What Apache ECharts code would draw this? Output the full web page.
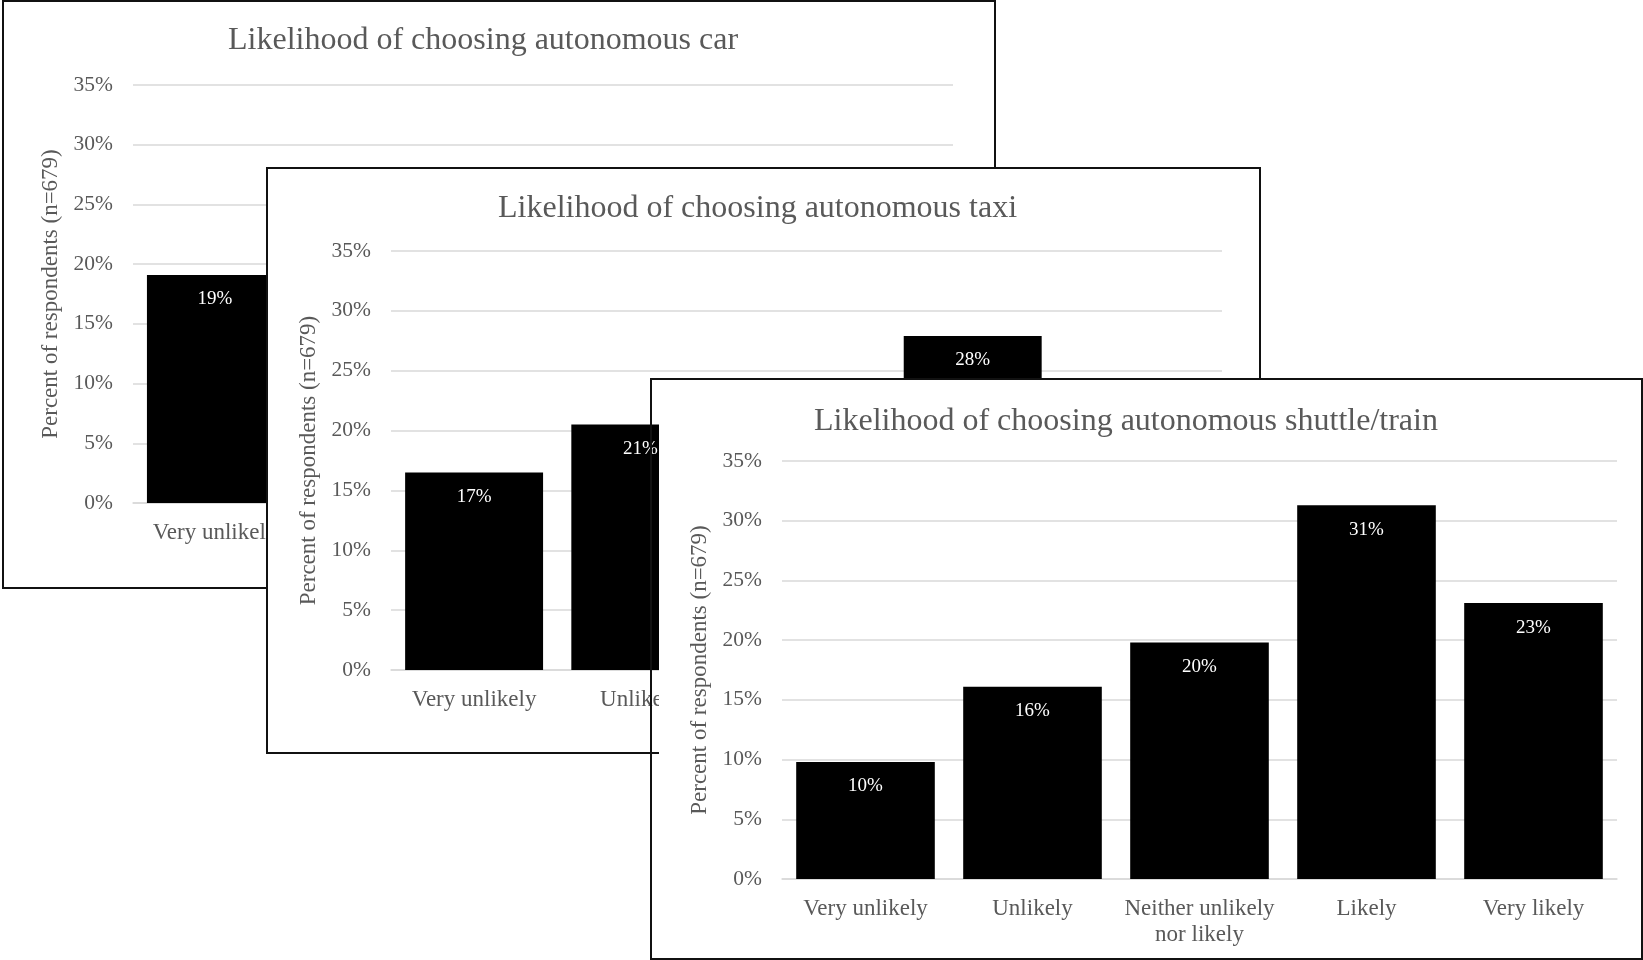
<!DOCTYPE html>
<html>
<head>
<meta charset="utf-8">
<script src="https://cdn.jsdelivr.net/npm/echarts@6/dist/echarts.min.js"></script>
<style>
html,body{margin:0;padding:0;background:#fff;width:1643px;height:960px;overflow:hidden;}
.panel{position:absolute;box-sizing:border-box;border:2px solid #111;background:#fff;}
.chart{position:absolute;left:0;top:0;width:100%;height:100%;}
#p3{background:transparent;}
#p3bg{position:absolute;left:7px;top:0;right:0;bottom:0;background:#fff;}
</style>
</head>
<body>
<div id="p1" class="panel" style="left:2px;top:0px;width:994px;height:589px;"><div id="c1" class="chart"></div></div>
<div id="p2" class="panel" style="left:266px;top:167px;width:995px;height:587px;"><div id="c2" class="chart"></div></div>
<div id="p3" class="panel" style="left:650px;top:378px;width:993px;height:582px;"><div id="p3bg"></div><div id="c3" class="chart"></div></div>
<script>
const categories = ['Very unlikely', 'Unlikely', 'Neither unlikely\nnor likely', 'Likely', 'Very likely'];
const carValues = [19.1, 18.0, 21.0, 25.0, 16.9];
const taxiValues = [16.5, 20.5, 17.0, 27.9, 18.1];
const shuttleValues = [9.8, 16.1, 19.8, 31.3, 23.1];
const yTicks = {min: 0, max: 35, interval: 5};
const titles = ['Likelihood of choosing autonomous car', 'Likelihood of choosing autonomous taxi', 'Likelihood of choosing autonomous shuttle/train'];
const yName = 'Percent of respondents (n=679)';

const FONT = '"Liberation Serif", "Times New Roman", serif';
const TXT = '#595959';
const GRID = '#d9d9d9';

function makeOption(title, values, layout) {
  return {
    animation: false,
    backgroundColor: 'transparent',
    textStyle: {fontFamily: FONT},
    title: {
      text: title,
      left: layout.titleLeft,
      top: layout.titleTop,
      textStyle: {fontFamily: FONT, fontSize: 32, fontWeight: 'normal', color: TXT}
    },
    grid: {left: layout.left, right: layout.right, top: layout.top, bottom: layout.bottom, containLabel: false},
    xAxis: {
      type: 'category',
      data: categories,
      axisLine: {lineStyle: {color: GRID, width: 1.5}},
      axisTick: {show: false},
      axisLabel: {color: TXT, fontFamily: FONT, fontSize: 23, margin: 17, lineHeight: 26, interval: 0}
    },
    yAxis: {
      type: 'value',
      min: yTicks.min, max: yTicks.max, interval: yTicks.interval,
      name: yName,
      nameLocation: 'middle',
      nameGap: 63,
      nameTextStyle: {color: TXT, fontFamily: FONT, fontSize: 23},
      axisLine: {show: false},
      axisTick: {show: false},
      axisLabel: {color: TXT, fontFamily: FONT, fontSize: 21.5, margin: 20, formatter: '{value}%'},
      splitLine: {lineStyle: {color: GRID, width: 1.5}}
    },
    series: [{
      type: 'bar',
      data: values,
      barCategoryGap: '17%',
      itemStyle: {color: '#000'},
      label: {
        show: true,
        position: 'insideTop',
        distance: 15,
        color: '#fff',
        fontFamily: FONT,
        fontSize: 19,
        formatter: p => Math.round(p.value) + '%'
      }
    }]
  };
}

const layouts = [
  {titleLeft: 219, titleTop: 18, left: 129, right: 41, top: 83, bottom: 84},
  {titleLeft: 225, titleTop: 19, left: 123, right: 37, top: 82, bottom: 82},
  {titleLeft: 157, titleTop: 21, left: 130, right: 24, top: 81, bottom: 79}
];
const dataSets = [carValues, taxiValues, shuttleValues];
['c1', 'c2', 'c3'].forEach((id, i) => {
  const chart = echarts.init(document.getElementById(id), null, {renderer: 'canvas'});
  chart.setOption(makeOption(titles[i], dataSets[i], layouts[i]));
});
</script>
</body>
</html>
